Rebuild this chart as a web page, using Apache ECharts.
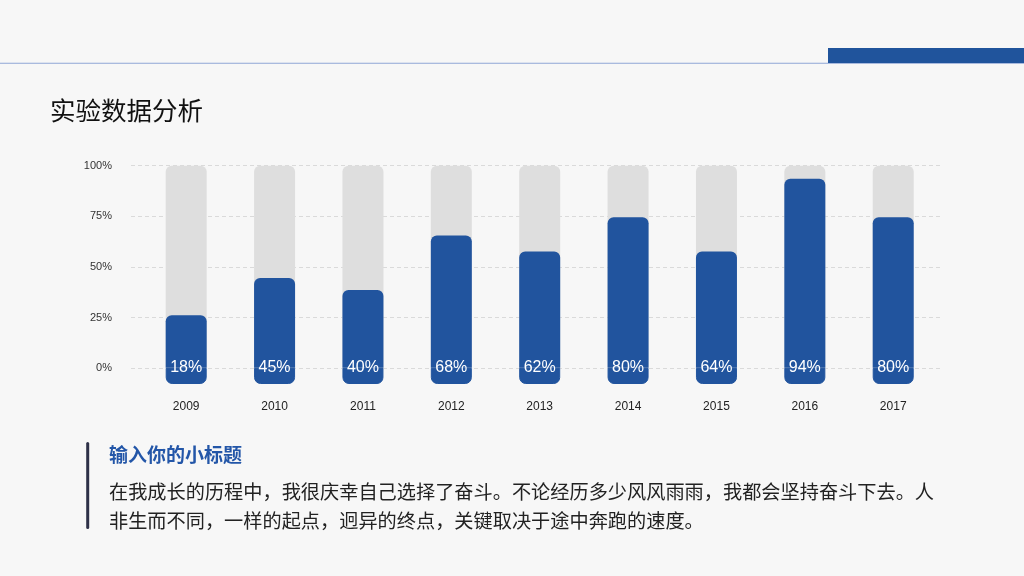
<!DOCTYPE html>
<html>
<head>
<meta charset="utf-8">
<script src="https://cdn.jsdelivr.net/npm/echarts@6/dist/echarts.min.js"></script>
<style>
html,body{margin:0;padding:0;background:#f7f7f7;}
#c{width:1024px;height:576px;}
</style>
</head>
<body>
<div id="c"></div>
<script>
// ---- data ----
const years = ['2009','2010','2011','2012','2013','2014','2015','2016','2017'];
const barValues = [26, 44.5, 38.5, 65.5, 57.5, 74.5, 57.5, 93.5, 74.5];
const labelValues = [18, 45, 40, 68, 62, 80, 64, 94, 80];
const fullValue = 100;
const footValue = -8;
const yMin = 0, yMax = 100, yStep = 25;

const titleText = '实验数据分析';
const subTitle = '输入你的小标题';
const bodyLines = [
  '在我成长的历程中，我很庆幸自己选择了奋斗。不论经历多少风风雨雨，我都会坚持奋斗下去。人',
  '非生而不同，一样的起点，迥异的终点，关键取决于途中奔跑的速度。'
];

// ---- styles ----
const BLUE = '#21549e';
const GRAY = '#dedede';
const CJK = '"Noto Sans CJK SC", "Noto Sans", sans-serif';
const LAT = '"Liberation Sans", Arial, sans-serif';

const chart = echarts.init(document.getElementById('c'), null, {renderer: 'canvas'});

const option = {
  backgroundColor: '#f7f7f7',
  animation: false,
  grid: [
    {left: 131, right: 81, top: 165.7, bottom: 207.7},
    {left: 142, right: 86.6, top: 165.7, bottom: 192}
  ],
  xAxis: [
    {gridIndex: 0, type: 'category', data: years, show: false},
    {gridIndex: 1, type: 'category', data: years,
     axisLine: {show: false}, axisTick: {show: false},
     axisLabel: {fontSize: 12, color: '#222', fontFamily: LAT, margin: 17}}
  ],
  yAxis: [
    {gridIndex: 0, type: 'value', min: yMin, max: yMax, interval: yStep,
     axisLine: {show: false}, axisTick: {show: false},
     axisLabel: {formatter: '{value}%', fontSize: 11, color: '#333', fontFamily: LAT, margin: 19, padding: [3, 0, 0, 0]},
     splitLine: {show: true, lineStyle: {type: [4, 3], color: '#dadada', width: 1}}},
    {gridIndex: 1, type: 'value', min: footValue, max: yMax, show: false,
     splitLine: {show: false}}
  ],
  series: [
    {
      type: 'bar', xAxisIndex: 1, yAxisIndex: 1,
      data: years.map(() => fullValue),
      barWidth: 41, barGap: '-100%',
      itemStyle: {color: GRAY, borderRadius: [6, 6, 0, 0]},
      silent: true, z: 1
    },
    {
      type: 'bar', xAxisIndex: 1, yAxisIndex: 1,
      data: years.map(() => footValue),
      barWidth: 41, barGap: '-100%',
      itemStyle: {color: BLUE, borderColor: BLUE, borderWidth: 1, borderRadius: [0, 0, 6, 6]},
      silent: true, z: 2
    },
    {
      type: 'bar', xAxisIndex: 1, yAxisIndex: 1,
      data: barValues,
      barWidth: 41, barGap: '-100%',
      itemStyle: {color: BLUE, borderRadius: [6, 6, 0, 0]},
      label: {
        show: true, position: 'insideBottom', distance: 0, offset: [0, 8],
        color: '#fff', fontSize: 16, fontFamily: LAT,
        formatter: p => labelValues[p.dataIndex] + '%'
      },
      silent: true, z: 3
    }
  ],
  graphic: [
    {type: 'rect', shape: {x: 0, y: 62.8, width: 1024, height: 1}, style: {fill: '#8fa6d6'}, silent: true},
    {type: 'rect', shape: {x: 828, y: 48, width: 196, height: 15}, style: {fill: '#20549c'}, silent: true},
    {type: 'text', style: {x: 50, y: 110, text: titleText, fill: '#111', font: '25.5px ' + CJK, verticalAlign: 'middle'}},
    {type: 'rect', shape: {x: 86.2, y: 442, width: 3, height: 87, r: 1.5}, style: {fill: '#2e3148'}, silent: true},
    {type: 'text', style: {x: 109, y: 455, text: subTitle, fill: '#2356a8', font: 'bold 19px ' + CJK, verticalAlign: 'middle'}},
    {type: 'text', style: {x: 109, y: 492, text: bodyLines[0], fill: '#222', font: '19.2px ' + CJK, verticalAlign: 'middle'}},
    {type: 'text', style: {x: 109, y: 520.5, text: bodyLines[1], fill: '#222', font: '19.2px ' + CJK, verticalAlign: 'middle'}}
  ]
};
chart.setOption(option);
</script>
</body>
</html>
